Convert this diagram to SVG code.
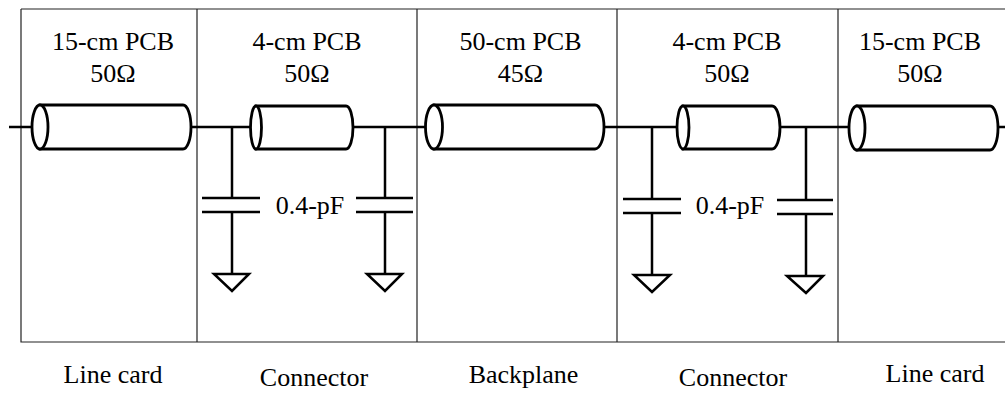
<svg xmlns="http://www.w3.org/2000/svg" width="1005" height="393" viewBox="0 0 1005 393">
<style>
.frame{fill:none;stroke:#222;stroke-width:1.2}
.wire{fill:none;stroke:#000;stroke-width:2.5}
.cable{fill:#fff;stroke:#000;stroke-width:2.8}
.gnd{fill:none;stroke:#000;stroke-width:2.5;stroke-linejoin:miter}
</style>
<rect width="1005" height="393" fill="#fff"/>
<g id="frame">
<path class="frame" d="M21,9 H1005 M21,9 V342 H1005 M197,9 V342 M417,9 V342 M617,9 V342 M838,9 V342"/>
</g>
<g id="connectors">
<path class="wire" d="M9,127 H40 M192,127 H256 M354,127 H434 M604,127 H683 M780,127 H857 M998,127 H1005"/>
<path class="wire" d="M232,127 V198 M232,212 V274 M385,127 V198 M385,212 V274 M652,127 V199 M652,213 V275 M806,127 V200 M806,214 V276"/>
</g>
<g id="linecard1" font-family="Liberation Serif" font-size="26" text-anchor="middle">
<path class="cable" d="M40,105 H183 A8,22 0 0 1 183,149 H40 Z"/>
<ellipse class="cable" cx="40" cy="127" rx="8" ry="22"/>
<text x="113" y="50" font-family="Liberation Serif">15-cm PCB</text>
<text x="113" y="82" font-family="Liberation Serif">50Ω</text>
<text x="113" y="383" font-family="Liberation Serif">Line card</text>
</g>
<g id="connector1" font-family="Liberation Serif" font-size="26" text-anchor="middle">
<path class="cable" d="M256,106 H346 A7,21.5 0 0 1 346,149 H256 Z"/>
<ellipse class="cable" cx="256" cy="127.5" rx="5.5" ry="21.5"/>
<text x="307" y="50" font-family="Liberation Serif">4-cm PCB</text>
<text x="307" y="82" font-family="Liberation Serif">50Ω</text>
<text x="310" y="214" font-family="Liberation Serif">0.4-pF</text>
<text x="314" y="386" font-family="Liberation Serif">Connector</text>
</g>
<g id="cap1">
<path class="gnd" d="M202,198 H260 M202,212 H260 M214,274 H249 L232,291 Z"/>
</g>
<g id="cap2">
<path class="gnd" d="M356,198 H413 M356,212 H413 M367,274 H402 L385,291 Z"/>
</g>
<g id="backplane" font-family="Liberation Serif" font-size="26" text-anchor="middle">
<path class="cable" d="M434,105 H595 A9,22 0 0 1 595,149 H434 Z"/>
<ellipse class="cable" cx="434" cy="127" rx="8.5" ry="22"/>
<text x="520.5" y="50" font-family="Liberation Serif">50-cm PCB</text>
<text x="520.5" y="82" font-family="Liberation Serif">45Ω</text>
<text x="523.5" y="383" font-family="Liberation Serif">Backplane</text>
</g>
<g id="connector2" font-family="Liberation Serif" font-size="26" text-anchor="middle">
<path class="cable" d="M683,106 H772 A8,21.5 0 0 1 772,149 H683 Z"/>
<ellipse class="cable" cx="683" cy="127.5" rx="6" ry="21.5"/>
<text x="727" y="50" font-family="Liberation Serif">4-cm PCB</text>
<text x="727" y="82" font-family="Liberation Serif">50Ω</text>
<text x="730" y="214" font-family="Liberation Serif">0.4-pF</text>
<text x="733" y="386" font-family="Liberation Serif">Connector</text>
</g>
<g id="cap3">
<path class="gnd" d="M623,199 H681 M623,213 H681 M634,275 H670 L652,292 Z"/>
</g>
<g id="cap4">
<path class="gnd" d="M777,200 H833 M777,214 H833 M787,276 H823 L806,293 Z"/>
</g>
<g id="linecard2" font-family="Liberation Serif" font-size="26" text-anchor="middle">
<path class="cable" d="M857,106 H990 A8,22 0 0 1 990,150 H857 Z"/>
<ellipse class="cable" cx="857" cy="128" rx="8" ry="22"/>
<text x="920" y="50" font-family="Liberation Serif">15-cm PCB</text>
<text x="920" y="82" font-family="Liberation Serif">50Ω</text>
<text x="935" y="382" font-family="Liberation Serif">Line card</text>
</g>
</svg>
